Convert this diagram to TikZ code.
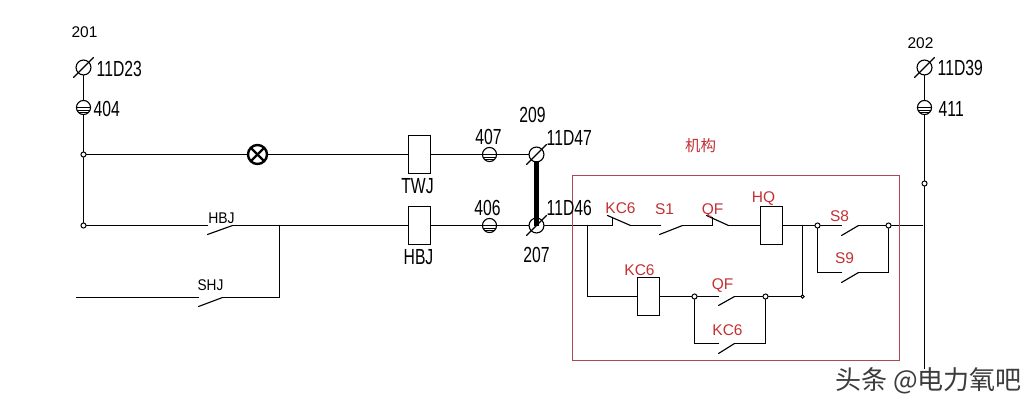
\documentclass[tikz,border=0pt]{standalone}
\usepackage{fontspec}
\setmainfont{Liberation Sans}
\newfontfamily\cjk{Noto Sans CJK SC}
\usetikzlibrary{positioning,calc}
\definecolor{boxred}{RGB}{178,72,78}
\definecolor{labelred}{RGB}{196,48,52}
\definecolor{markgray}{RGB}{60,60,60}
\tikzset{
	wire/.style={line width=.8pt,line cap=round},
	terminal/.style={circle,draw,line width=.8pt,minimum size=10.6pt,inner sep=0pt},
	fuse/.style={circle,draw,line width=.8pt,minimum size=10pt,inner sep=0pt,
		path picture={
			\draw[line width=.7pt] ($(path picture bounding box.center)+(-8pt,0)$) -- +(16pt,0);
			\draw[line width=.7pt] ($(path picture bounding box.center)+(-8pt,-1.8pt)$) -- +(16pt,0);
			\draw[line width=.7pt] ($(path picture bounding box.center)+(-8pt,-3.5pt)$) -- +(16pt,0);
		}},
	lamp/.style={circle,draw,line width=1.7pt,minimum size=13.5pt,inner sep=0pt,
		path picture={
			\draw[line width=1.7pt] (path picture bounding box.north west) -- (path picture bounding box.south east);
			\draw[line width=1.7pt] (path picture bounding box.north east) -- (path picture bounding box.south west);
		}},
	coil/.style={rectangle,draw,line width=.8pt,minimum width=15.5pt,minimum height=27pt,inner sep=0pt},
	dot/.style={circle,draw,fill=white,line width=.7pt,minimum size=3.6pt,inner sep=0pt},
	cad/.style={inner sep=0pt,text height=11.2pt,text depth=0pt,font=\fontsize{15.5}{16}\selectfont,xscale=.72},
	plain/.style={inner sep=0pt,text height=7.9pt,text depth=0pt,font=\fontsize{11}{12}\selectfont},
	mech/.style={plain,text=labelred}
}
\begin{document}
\begin{tikzpicture}
[x=.71pt, y=-.71pt]
\useasboundingbox (-.5,-.5) rectangle (1034.5,404.5);
\fill[white] (-.5,-.5) rectangle (1034.5,404.5);
\node[terminal] (t23) at (83,67) {};
\node[fuse] (f404) at (83,107) {};
\node[dot] (j1) at (83,154) {};
\node[dot] (j2) at (83,225) {};
\node[lamp] (lamp) at (257,154) {};
\node[coil] (twj) at (419,154) {};
\node[coil] (hbj) at (419,225) {};
\node[fuse] (f407) at (489,154) {};
\node[fuse] (f406) at (489,225) {};
\node[terminal] (t47) at (536,154) {};
\node[terminal] (t46) at (536,225) {};
\node[terminal] (t39) at (924,67) {};
\node[fuse] (f411) at (924,107) {};
\node[dot] (j3) at (924,183) {};
\coordinate (railend) at (924,368);
\coordinate (hbjL) at (207,225);
\coordinate (hbjB) at (207,234);
\coordinate (hbjR) at (232,225);
\coordinate (tee) at (279,225);
\coordinate (shjS) at (76,297);
\coordinate (shjL) at (198,297);
\coordinate (shjB) at (198,306);
\coordinate (shjR) at (222,297);
\coordinate (teeB) at (279,297);
\draw[wire] (t23) -- (f404) -- (j1) -- (j2);
\draw[wire] (j1) -- (lamp) -- (twj) -- (f407) -- (t47);
\draw[wire] (j2) -- (hbjL);
\draw[wire] (hbjB) -- (hbjR);
\draw[wire] (hbjR) -- (hbj) -- (f406) -- (t46);
\draw[wire] (tee) -- (teeB) -- (shjR);
\draw[wire] (shjR) -- (shjB);
\draw[wire] (shjS) -- (shjL);
\draw[line width=1.3pt] (322,225) -- (326,225);
\draw[wire] (t39) -- (f411) -- (j3) -- (railend);
\draw[line width=3.2pt] (t47.center) ++(0,6) -- (t46.center);
\foreach \t in {t23,t47,t46,t39}
	\draw[wire] ($(\t)+(-10,10)$) -- ($(\t)+(10,-10)$);
\node[coil] (hq) at (771,225) {};
\node[coil] (kc) at (648,296) {};
\node[dot] (j4) at (694,296) {};
\node[dot] (j5) at (765,296) {};
\node[dot,minimum size=2.4pt] (j6) at (802,296) {};
\node[dot] (j7) at (817,225) {};
\node[dot] (j8) at (888,225) {};
\coordinate (in) at (587,225);
\coordinate (inB) at (587,296);
\coordinate (kcT) at (612,225);
\coordinate (kcU) at (612,217);
\coordinate (kcA) at (607,215);
\coordinate (kcE) at (630,225);
\coordinate (s1L) at (660,225);
\coordinate (s1B) at (659,234);
\coordinate (s1R) at (682,225);
\coordinate (qfT) at (712,225);
\coordinate (qfU) at (712,217);
\coordinate (qfA) at (706,215);
\coordinate (qfE) at (728,225);
\coordinate (hqT) at (802,225);
\coordinate (s8L) at (841,225);
\coordinate (s8B) at (841,235);
\coordinate (s8R) at (858,225);
\coordinate (s9C) at (817,272);
\coordinate (s9L) at (841,272);
\coordinate (s9B) at (841,282);
\coordinate (s9R) at (858,272);
\coordinate (s9E) at (888,272);
\coordinate (rail) at (922,225);
\coordinate (q2L) at (718,296);
\coordinate (q2B) at (718,305);
\coordinate (q2R) at (734,296);
\coordinate (k2C) at (694,343);
\coordinate (k2L) at (718,343);
\coordinate (k2B) at (718,353);
\coordinate (k2R) at (734,343);
\coordinate (k2E) at (765,343);
\draw[wire] (t46) -- (kcT) -- (kcU);
\draw[wire] (kcA) -- (kcE);
\draw[wire] (kcE) -- (s1L);
\draw[wire] (s1B) -- (s1R);
\draw[wire] (s1R) -- (qfT) -- (qfU);
\draw[wire] (qfA) -- (qfE);
\draw[wire] (qfE) -- (hq) -- (hqT) -- (j7) -- (s8L);
\draw[wire] (s8B) -- (s8R);
\draw[wire] (s8R) -- (j8) -- (rail);
\draw[wire] (in) -- (inB) -- (kc) -- (j4) -- (q2L);
\draw[wire] (q2B) -- (q2R);
\draw[wire] (q2R) -- (j5) -- (j6) -- (hqT);
\draw[wire] (j4) -- (k2C) -- (k2L);
\draw[wire] (k2B) -- (k2R);
\draw[wire] (k2R) -- (k2E) -- (j5);
\draw[wire] (j7) -- (s9C) -- (s9L);
\draw[wire] (s9B) -- (s9R);
\draw[wire] (s9R) -- (s9E) -- (j8);
\draw[boxred,line width=.8pt] (572,175) rectangle (899,360);
\node[plain] (n201) at (84,31) {201};
\node[plain] (n202) at (920,42) {202};
\node[cad,anchor=west] (l23) at (96,68) {11D23};
\node[cad,anchor=west] (l404) at (93,108) {404};
\node[cad,anchor=west] (l39) at (937,67) {11D39};
\node[cad,anchor=west] (l411) at (938,108) {411};
\node[cad] (l407) at (488,136) {407};
\node[cad] (l406) at (487,207) {406};
\node[cad] (l209) at (532,114) {209};
\node[cad] (l207) at (536,254) {207};
\node[cad,anchor=west] (l47) at (546,137) {11D47};
\node[cad,anchor=west] (l46) at (546,207) {11D46};
\node[cad] (ltwj) at (417,185) {TWJ};
\node[cad] (lhbj) at (418,256) {HBJ};
\node[plain,xscale=.9] (lhbjc) at (221,217) {HBJ};
\node[plain,xscale=.88] (lshj) at (210,284) {SHJ};
\node[mech] (m1) at (620,207) {KC6};
\node[mech] (m2) at (664,208) {S1};
\node[mech] (m3) at (712,208) {QF};
\node[mech] (m4) at (763,196) {HQ};
\node[mech] (m5) at (839,215) {S8};
\node[mech] (m6) at (844,257) {S9};
\node[mech] (m7) at (639,269) {KC6};
\node[mech] (m8) at (722,283) {QF};
\node[mech] (m9) at (727,329) {KC6};
\node[inner sep=0pt,text=labelred,font=\cjk\fontsize{11}{12}\selectfont] (mech) at (700,145) {机构};
\node[inner sep=0pt,text=markgray,font=\cjk\fontsize{18.5}{20}\selectfont] (mark) at (928,380) {头条 @电力氧吧};
\end{tikzpicture}
\end{document}
